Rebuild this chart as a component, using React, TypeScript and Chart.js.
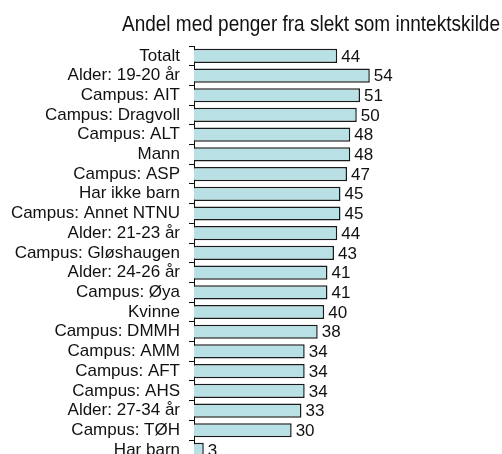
import React, { useEffect, useRef } from "react";
import { Chart, registerables } from "chart.js";

Chart.register(...registerables);

const categories = [
  "Totalt",
  "Alder: 19-20 år",
  "Campus: AIT",
  "Campus: Dragvoll",
  "Campus: ALT",
  "Mann",
  "Campus: ASP",
  "Har ikke barn",
  "Campus: Annet NTNU",
  "Alder: 21-23 år",
  "Campus: Gløshaugen",
  "Alder: 24-26 år",
  "Campus: Øya",
  "Kvinne",
  "Campus: DMMH",
  "Campus: AMM",
  "Campus: AFT",
  "Campus: AHS",
  "Alder: 27-34 år",
  "Campus: TØH",
  "Har barn",
];

const values = [44, 54, 51, 50, 48, 48, 47, 45, 45, 44, 43, 41, 41, 40, 38, 34, 34, 34, 33, 30, 3];

const titleText = "Andel med penger fra slekt som inntektskilde";

const valueLabels = {
  id: "valueLabels",
  afterDatasetsDraw(chart: any) {
    const ctx = chart.ctx;
    const meta = chart.getDatasetMeta(0);
    ctx.save();
    ctx.font = '17px "Liberation Sans", Arial, sans-serif';
    ctx.fillStyle = "#111";
    ctx.textAlign = "left";
    ctx.textBaseline = "middle";
    meta.data.forEach((bar: any, i: number) => {
      ctx.fillText(String(values[i]), bar.x + 4, bar.y + 1);
    });
    ctx.restore();
  },
};

const narrowTitle = {
  id: "narrowTitle",
  afterDraw(chart: any) {
    const ctx = chart.ctx;
    ctx.save();
    ctx.font = '22px "Liberation Sans", Arial, sans-serif';
    ctx.fillStyle = "#111";
    ctx.textAlign = "right";
    ctx.textBaseline = "alphabetic";
    const w = ctx.measureText(titleText).width;
    const sx = 378 / w;
    ctx.translate(500, 31);
    ctx.scale(sx, 1);
    ctx.fillText(titleText, 0, 0);
    ctx.restore();
  },
};

export default function App() {
  const ref = useRef<HTMLCanvasElement>(null);
  useEffect(() => {
    document.body.style.margin = "0";
    document.body.style.overflow = "hidden";
    const chart = new Chart(ref.current!, {
      type: "bar",
      data: {
        labels: categories,
        datasets: [
          {
            data: values,
            backgroundColor: "#b9e0e4",
            borderColor: "#1a1a1a",
            borderWidth: 1.5,
            barPercentage: 0.72,
            categoryPercentage: 1,
          },
        ],
      },
      options: {
        indexAxis: "y",
        animation: false,
        responsive: false,
        maintainAspectRatio: false,
        layout: { padding: { left: 0, right: 2, top: 46, bottom: 2 } },
        plugins: {
          legend: { display: false },
          tooltip: { enabled: false },
          title: { display: false },
        },
        scales: {
          x: { display: false, min: 0, max: 94 },
          y: {
            afterFit: (s: any) => {
              s.width = 194;
            },
            border: { display: true, color: "#111", width: 1 },
            grid: {
              display: true,
              drawOnChartArea: false,
              drawTicks: true,
              tickLength: 5,
              color: "#111",
              offset: true,
            },
            ticks: {
              autoSkip: false,
              color: "#111",
              padding: 9,
              font: { family: '"Liberation Sans", Arial, sans-serif', size: 17 },
            },
          },
        },
      },
      plugins: [valueLabels, narrowTitle],
    });
    return () => chart.destroy();
  }, []);
  return (
    <div style={{ width: 502, height: 479 }}>
      <canvas ref={ref} width={502} height={479} style={{ display: "block" }} />
    </div>
  );
}
